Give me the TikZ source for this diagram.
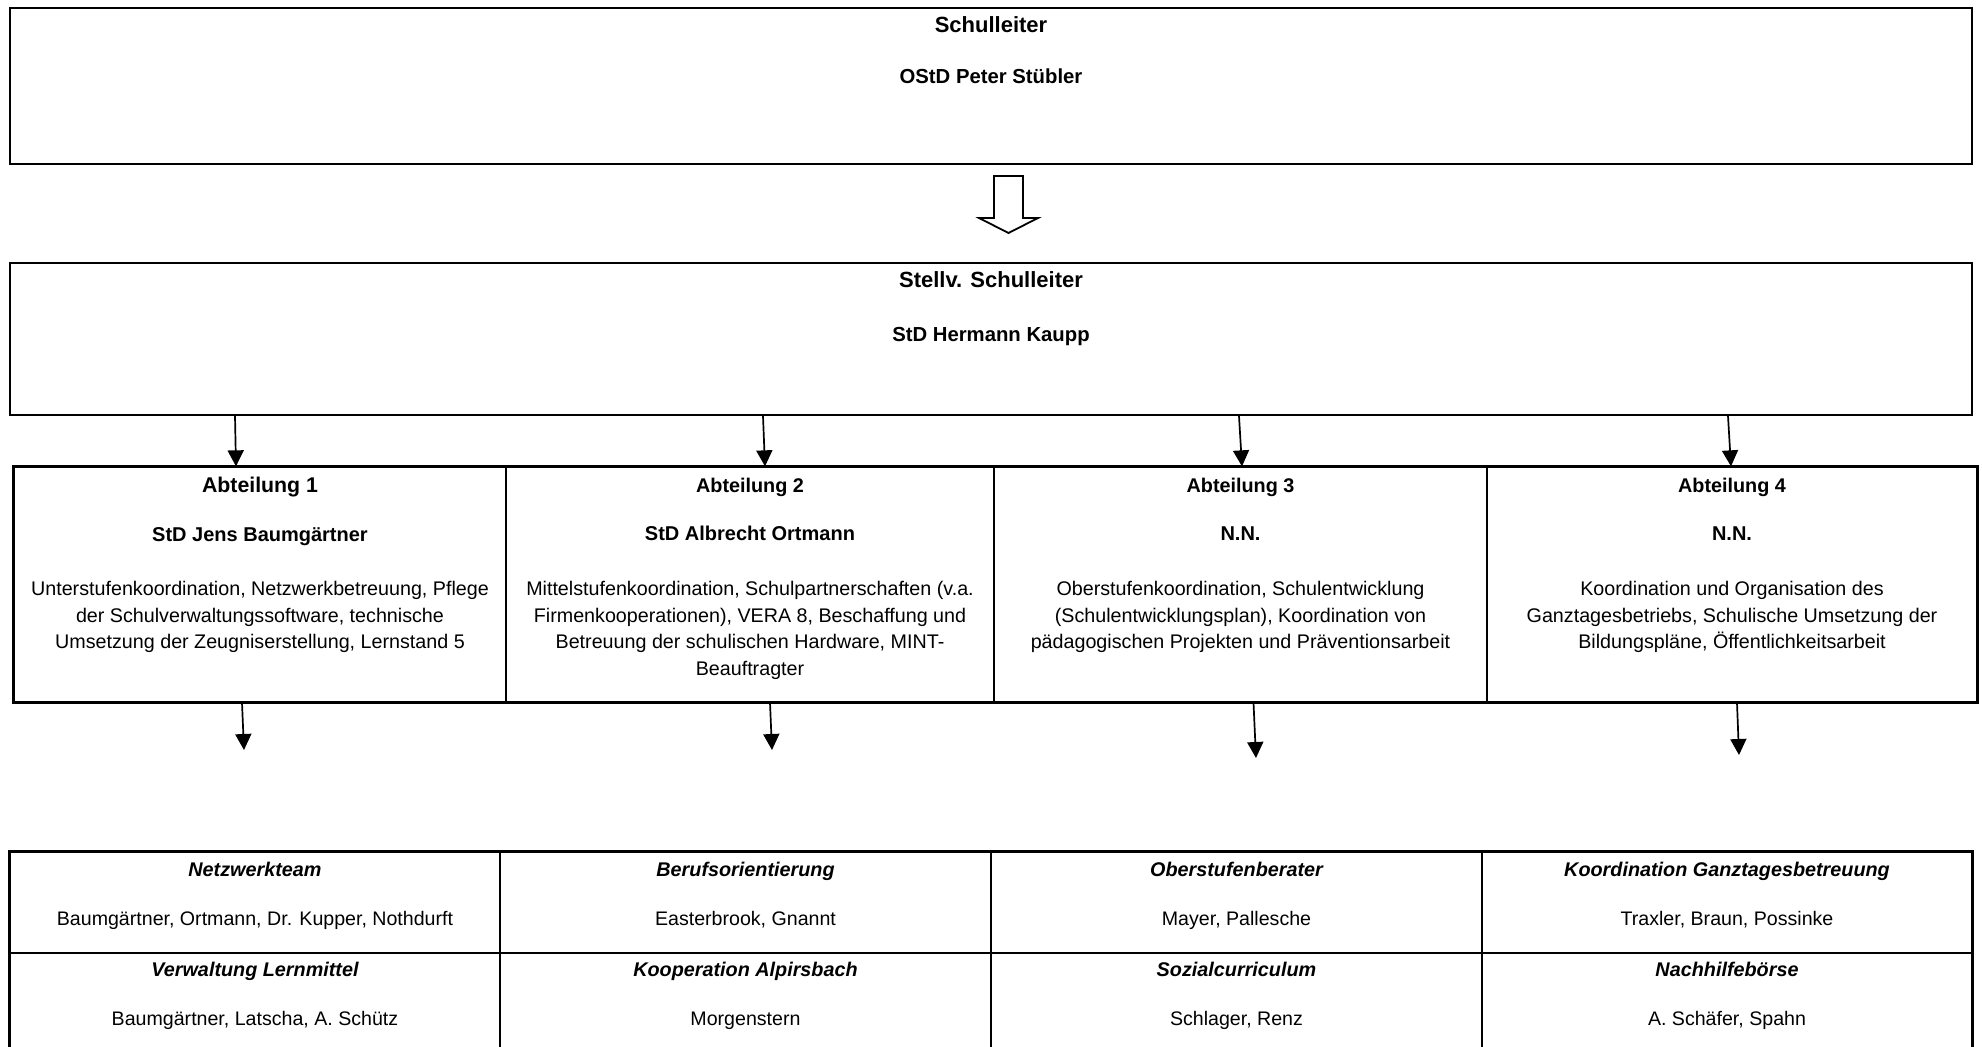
\documentclass[tikz,border=0pt]{standalone}
\usepackage{fontspec}
\setmainfont{Liberation Sans}
\usetikzlibrary{%
  arrows,%
  arrows.meta,%
  positioning%
}

\tikzset{
  box/.style={draw, rectangle, line width=2pt, inner sep=0pt},
  cell/.style={draw, rectangle, line width=1.3pt, inner sep=0pt},
  bighead/.style={font=\bfseries\fontsize{22}{26}\selectfont, inner sep=0pt, anchor=base},
  bigname/.style={font=\bfseries\fontsize{20.3}{24}\selectfont, inner sep=0pt, anchor=base},
  abthead/.style={font=\bfseries\fontsize{19.8}{24}\selectfont, inner sep=0pt, anchor=base},
  abtname/.style={font=\bfseries\fontsize{20}{24}\selectfont, inner sep=0pt, anchor=base},
  jobs/.style={font=\fontsize{19.7}{26.5}\selectfont, align=center, inner sep=0pt, anchor=north},
  grouphead/.style={font=\bfseries\itshape\fontsize{19.8}{24}\selectfont, inner sep=0pt, anchor=base},
  groupwho/.style={font=\fontsize{19.6}{24}\selectfont, inner sep=0pt, anchor=base},
}

\begin{document}
\begin{tikzpicture}[
  x=1pt, y=-1pt,
  >={Triangle[width=16pt,length=16pt]},
  line width=1.7pt,
]
\useasboundingbox (0,0) rectangle (1982,1047);
\clip (0,0) rectangle (1982,1047);

% Schulleitung
\node[box, minimum width=1962, minimum height=156] (sl) at (991,86) {};
\node[bighead] (slh) at (991,32) {Schulleiter};
\node[bigname] (sln) at (991,83) {OStD Peter Stübler};

\draw[line width=1.8pt, fill=white, line join=miter]
  (994,176) -- (1023,176) -- (1023,218) -- (1038,218) -- (1008.5,233)
  -- (979,218) -- (994,218) -- cycle;

\node[box, minimum width=1962, minimum height=152] (stv) at (991,339) {};
\node[bighead] (stvh) at (991,287) {Stellv. Schulleiter};
\node[bigname] (stvn) at (991,341) {StD Hermann Kaupp};

% Abteilungen
\foreach \k/\cx/\w in {1/260/492, 2/750/488, 3/1240.5/493, 4/1732/490} {
  \node[cell, minimum width=\w, minimum height=235] (abt\k) at (\cx,584.5) {};
}
\draw[line width=2pt] (abt1.north west) rectangle (abt4.south east);

\node[abthead, font=\bfseries\fontsize{21.3}{24}\selectfont] (abth1) at (260,492) {Abteilung 1};
\node[abthead] (abth2) at (750,492) {Abteilung 2};
\node[abthead] (abth3) at (1240.5,492) {Abteilung 3};
\node[abthead] (abth4) at (1732,492) {Abteilung 4};

\node[abtname] (abtn1) at (260,541) {StD Jens Baumgärtner};
\node[abtname] (abtn2) at (750,540) {StD Albrecht Ortmann};
\node[abtname] (abtn3) at (1240.5,540) {N.N.};
\node[abtname] (abtn4) at (1732,540) {N.N.};

\node[jobs] (abtj1) at (260,580.5) {Unterstufenkoordination, Netzwerkbetreuung, Pflege\\der Schulverwaltungssoftware, technische\\Umsetzung der Zeugniserstellung, Lernstand 5};
\node[jobs] (abtj2) at (750,580.5) {Mittelstufenkoordination, Schulpartnerschaften (v.a.\\Firmenkooperationen), VERA 8, Beschaffung und\\Betreuung der schulischen Hardware, MINT-\\Beauftragter};
\node[jobs] (abtj3) at (1240.5,580.5) {Oberstufenkoordination, Schulentwicklung\\{(Schulentwicklungsplan)}, Koordination von\\pädagogischen Projekten und Präventionsarbeit};
\node[jobs] (abtj4) at (1732,580.5) {Koordination und Organisation des\\Ganztagesbetriebs, Schulische Umsetzung der\\Bildungspläne, Öffentlichkeitsarbeit};

\foreach \k/\xa/\xb in {1/235/236, 2/763/765, 3/1239/1242, 4/1728/1731} {
  \draw[->] (stv.south -| \xa,0) -- (abt\k.north -| \xb,0);
}

\foreach \k/\xa/\xb/\yb in {1/242/244/750, 2/770/772/750, 3/1253.5/1256/758, 4/1737/1739/755} {
  \coordinate (down\k) at (\xb,\yb);
  \draw[->] (abt\k.south -| \xa,0) -- (down\k);
}

% Teams
\foreach \k/\cx/\w/\cy in {1/255/490/902.5, 2/745.5/491/902.5, 3/1236.5/491/902.5, 4/1727/490/902.5,
                           5/255/490/1003.5, 6/745.5/491/1003.5, 7/1236.5/491/1003.5, 8/1727/490/1003.5} {
  \node[cell, minimum width=\w, minimum height=101] (team\k) at (\cx,\cy) {};
}
\draw[line width=2pt] (team1.north west) rectangle (team8.south east);

\node[grouphead] (teamh1) at (255,876) {Netzwerkteam};
\node[grouphead] (teamh2) at (745.5,876) {Berufsorientierung};
\node[grouphead] (teamh3) at (1236.5,876) {Oberstufenberater};
\node[grouphead] (teamh4) at (1727,876) {Koordination Ganztagesbetreuung};
\node[groupwho] (teamw1) at (255,925) {Baumgärtner, Ortmann, Dr. Kupper, Nothdurft};
\node[groupwho] (teamw2) at (745.5,925) {Easterbrook, Gnannt};
\node[groupwho] (teamw3) at (1236.5,925) {Mayer, Pallesche};
\node[groupwho] (teamw4) at (1727,925) {Traxler, Braun, Possinke};

\node[grouphead] (teamh5) at (255,976) {Verwaltung Lernmittel};
\node[grouphead] (teamh6) at (745.5,976) {Kooperation Alpirsbach};
\node[grouphead] (teamh7) at (1236.5,976) {Sozialcurriculum};
\node[grouphead] (teamh8) at (1727,976) {Nachhilfebörse};
\node[groupwho] (teamw5) at (255,1025) {Baumgärtner, Latscha, A. Schütz};
\node[groupwho] (teamw6) at (745.5,1025) {Morgenstern};
\node[groupwho] (teamw7) at (1236.5,1025) {Schlager, Renz};
\node[groupwho] (teamw8) at (1727,1025) {A. Schäfer, Spahn};

\end{tikzpicture}
\end{document}
